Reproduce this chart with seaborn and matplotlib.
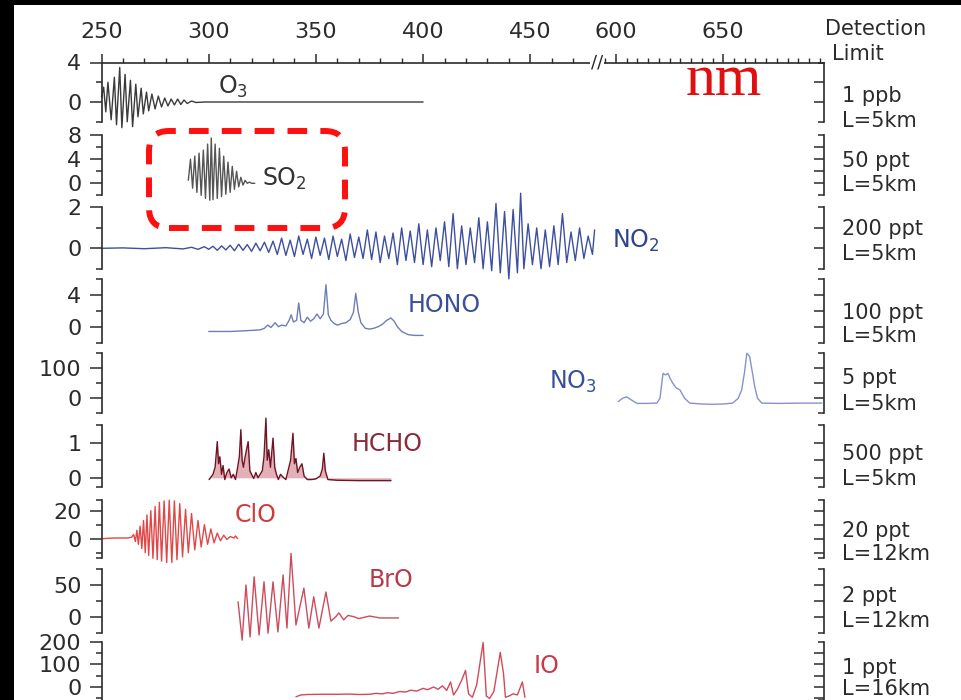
import numpy as np
import pandas as pd
import matplotlib
matplotlib.use("Agg")
import matplotlib.pyplot as plt
import matplotlib.transforms as mtransforms
from matplotlib.patches import FancyBboxPatch, Rectangle
import seaborn as sns

# ---- spectra (wavelength in nm, differential cross section) ----
o3_nm = [250, 251, 252, 253, 254.5, 256, 257, 258.5, 259.5, 261, 262, 263.5, 264.5, 266, 267,
         268.5, 269.5, 271, 272, 273.5, 275, 276.5, 278, 279.5, 281, 282.5, 284, 285.5, 287,
         288.5, 290, 292, 294, 298, 400]
o3_val = [0.5, 1.5, -1.0, 2.0, -1.8, 2.5, -2.3, 3.5, -2.6, 2.8, -2.0, 2.2, -2.5, 1.8, -1.5,
          1.4, -1.2, 1.0, -0.9, 0.8, -0.7, 0.6, -0.5, 0.4, -0.4, 0.3, -0.3, 0.3, -0.25,
          0.2, -0.15, 0.1, -0.05, 0.0, 0.0]

so2_nm = [290.5, 291.5, 292.5, 293.5, 294.5, 295.5, 296.5, 297.5, 298.5, 299.5, 300.5, 301.2,
          302, 303, 304, 305, 306, 307, 308, 309, 310, 311, 312, 313, 314, 315, 316, 317, 318,
          319, 320, 321.5]
so2_val = [0.5, 4.0, -0.8, 4.5, -1.5, 5.0, -2.0, 5.5, -2.5, 6.5, -2.8, 7.5,
           -2.7, 6.5, -2.5, 5.8, -2.2, 4.5, -1.8, 3.5, -1.5, 2.8, -1.0, 2.0, -0.6, 1.0, -0.3,
           0.5, 0.0, 0.2, 0.0, 0.0]

no2_nm = [250, 260, 270, 280, 288, 292, 295, 298, 300,
          302, 304, 306, 308, 310, 312, 314, 316, 318, 320,
          322, 324, 326, 328, 330, 332, 334, 336, 338, 340,
          342, 344, 346, 348, 350, 352, 354, 356, 358, 360,
          362, 364, 366, 368, 370, 372, 374, 376, 378, 380,
          382, 384, 386, 388, 390, 392, 394, 396, 398, 400,
          402, 404, 406, 408, 410, 412, 414, 416, 418, 420,
          422, 424, 426, 428, 430, 432, 434, 436, 438, 440,
          442, 444,
          445.5, 447, 449, 451, 453, 455, 457, 459, 461, 463,
          465, 467, 469, 471, 473, 475, 477, 479, 480]
no2_val = [0, 0.02, -0.02, 0.03, -0.03, 0.05, -0.05, 0.08, -0.05,
           0.1, -0.1, 0.12, -0.08, 0.15, -0.12, 0.2, -0.1, 0.18, -0.15,
           0.25, -0.12, 0.3, -0.2, 0.35, -0.3, 0.5, -0.35, 0.4, -0.4,
           0.6, -0.3, 0.45, -0.5, 0.55, -0.35, 0.5, -0.55, 0.6, -0.4,
           0.45, -0.6, 0.7, -0.45, 0.55, -0.5, 0.9, -0.55, 0.8, -0.7,
           0.6, -0.5, 0.75, -0.8, 1.0, -0.6, 0.85, -0.7, 1.2, -0.8,
           0.9, -0.9, 1.0, -0.6, 1.3, -0.9, 1.7, -1.0, 1.1, -0.8,
           1.0, -0.7, 1.5, -1.0, 1.3, -1.1, 2.2, -1.2, 1.8, -1.5,
           1.9, -1.2,
           2.7, -1.0, 1.2, -0.8, 1.0, -1.0, 0.9, -0.9, 1.1, -0.8,
           1.7, -0.7, 0.8, -0.6, 1.0, -0.5, 0.6, -0.3, 0.9]

hono_nm = [300, 310, 318, 324, 326, 327.5, 329, 331, 332.5, 334, 336, 337.5, 338.5, 339.5, 341,
           342, 343, 344.5, 346, 347.5, 349, 350.5, 352, 353.5, 354.7, 355.8, 357, 358.5, 360,
           362, 364, 366, 367.5, 368.6, 369.8, 371, 373, 375, 377, 379, 381, 383, 385, 386.5,
           388, 390, 393, 396, 400]
hono_val = [-0.6, -0.6, -0.5, -0.4, -0.2, 0.2, -0.1, 0.5, 0.0, 0.2, 0.1, 0.8, 1.5, 0.6, 0.8,
            3.0, 0.8, 0.5, 1.2, 0.7, 1.0, 1.6, 1.0, 1.6, 5.3, 1.5, 0.8, 0.4, 0.2,
            0.4, 0.5, 0.9, 1.8, 4.2, 1.8, 0.5, -0.2, -0.3, -0.2, 0.0, 0.3, 0.8, 1.1, 0.7,
            0.0, -0.6, -1.0, -1.1, -1.1]

no3_nm = [601, 603, 605, 607, 609.8, 614, 619, 620.5, 621.9, 623, 624.2, 625.3, 626.5, 628,
          629.8, 632, 634.4, 640, 645, 650, 654.4, 657, 658.6, 660, 661, 662.3, 663.5, 664.7,
          666, 668, 676, 686, 696]
no3_val = [-11, 0, 5, -5, -17, -17, -16, 0, 83, 78, 83, 65, 50, 35,
           28, 0, -16, -19, -20, -19, -16, 0, 28, 90, 150, 140, 90, 39,
           0, -16, -17, -16, -16]

hcho_nm = [300.2, 302, 303, 304, 304.6, 305.2, 306, 306.7, 307.5, 308.5, 309.5, 310.5, 311.5,
           312.5, 313.5, 314.3, 315, 315.6, 316.2, 317, 318.4, 319.2, 320, 321, 322, 323, 324,
           325, 325.8, 326.7, 327.3, 328, 328.8, 330, 330.8, 331.6, 332.5, 333.5, 335, 336,
           337, 338.2, 339.3, 340, 340.7, 341.5, 342.5, 343.5, 344.5, 346, 348, 350, 352, 353,
           353.7, 354.4, 355.6, 360, 370, 385]
hcho_val = [-0.05, 0.1, 0.3, 1.03, 0.4, 0.6, 0.1, 0.35, -0.05, 0.15, 0.25, 0.0, 0.1,
            -0.05, 0.3, 0.6, 1.37, 0.5, 0.3, 0.6, 1.03, 0.2, 0.1, -0.02, 0.15, 0.0, 0.1,
            0.2, 0.6, 1.7, 0.5, 0.8, 0.3, 1.13, 0.3, 0.1, -0.05, 0.1, 0.0, -0.05,
            0.2, 0.5, 1.27, 0.4, 0.55, 0.15, 0.3, 0.4, 0.05, -0.05, -0.05, -0.03, 0.05, 0.25,
            0.7, 0.2, -0.05, -0.07, -0.08, -0.08]

clo_nm = [250, 256, 262, 264, 265, 265.8, 266.5, 267.2, 268, 268.8, 269.6, 270.4, 271.2, 272,
          273, 274, 275, 276, 277, 278, 279.2, 280.4, 281.6, 282.8, 284, 285.2, 286.5, 287.8,
          289.2, 290.5, 292, 293.5, 295, 296.5, 298, 299.5, 301, 302.5, 304, 305.5, 307,
          308.5, 310, 311.9, 312.5, 313.5]
clo_val = [0, 0.5, 0.5, 1, 3, -2, 6, -4, 9, -7, 13, -10, 17, -12,
           20, -14, 23, -15, 26, -16, 27, -17, 27.5, -17, 27, -15, 25, -13,
           21, -10, 18, -8, 13, -6, 10, -4, 7, -3, 4, -1.5, 2.5,
           -0.5, 1.5, 0.5, 2, 0]

bro_nm = [313.7, 315.6, 317.4, 319.3, 321.2, 323.5, 325.8, 327.7, 330, 332.3, 334.7, 336.5,
          338.4, 340.7, 344.4, 346.7, 349, 351.4, 354.7, 357, 359.3, 360.7, 363, 365, 367.7,
          370, 375, 380, 388.6]
bro_val = [23.6, -37, 50, -32, 63, -29, 55, -26, 55, -24, 66, -18,
           100, -13, 45, -18, 31.5, -18, 39, -7, 0, 6, -5, 2, 0,
           -3, 1, -2, -2]

io_nm = [340.7, 343, 346, 352, 360, 366, 370, 375, 378, 381, 383.5, 386, 389, 392, 394.2, 397,
         400, 402, 404.9, 407, 409, 411, 412.8, 414.2, 416, 418, 419.8, 421.2, 423, 425, 428,
         429.5, 431, 433, 436, 437.5, 438.4, 440, 442, 444, 446.3, 447.5]
io_val = [-43, -35, -33, -32, -32, -31, -33, -32, -28, -30, -25, -28, -20, -22, -14, -18,
          -6, -12, 0, -10, 5, -15, 22, -35, -10, 30, 73, -30, -45, 10, 196,
          -40, -50, -20, 152, 60, -45, -40, -30, -35, 22, -45]

top_major = [250, 300, 350, 400, 450, 600, 650]
top_minor = [260, 270, 280, 290, 310, 320, 330, 340, 360, 370, 380, 390, 410, 420, 430, 440,
             460, 470, 480, 595, 605, 610, 615, 620, 625, 630, 635, 640, 645, 655, 660, 665,
             670, 675, 680, 685, 690, 695]

limit_text = ["1 ppb", "50 ppt", "200 ppt", "100 ppt", "5 ppt", "500 ppt", "20 ppt", "2 ppt", "1 ppt"]
path_text = ["L=5km", "L=5km", "L=5km", "L=5km", "L=5km", "L=5km", "L=12km", "L=12km", "L=16km"]

# ---- broken wavelength axis: 481 nm on the left joins 591 nm on the right ----
BRK_LO, BRK_HI = 481.0, 591.0


def fwd(x):
    x = np.asarray(x, dtype=float)
    return np.where(x <= BRK_LO, x, np.where(x >= BRK_HI, x - (BRK_HI - BRK_LO), BRK_LO))


def inv(x):
    x = np.asarray(x, dtype=float)
    return np.where(x <= BRK_LO, x, x + (BRK_HI - BRK_LO))


sns.set_theme(style="ticks")
plt.rcParams["font.family"] = ["DejaVu Sans"]
plt.rcParams["mathtext.fontset"] = "dejavusans"

W, H = 961, 700
X_LEFT, X_RIGHT = 101.5, 824.0
INK = "#2b2b2b"

fig = plt.figure(figsize=(W / 100, H / 100), dpi=100, facecolor="black")
fig.add_artist(Rectangle((14 / W, 0), 1 - 14 / W, 1 - 5 / H, transform=fig.transFigure,
                         facecolor="white", edgecolor="none", zorder=-10))

panels = [
    dict(nm=o3_nm, val=o3_val, color="#3a3a3a", cal=(4, 62.5, 0, 102), lim=(-2, 4),
         ticks=[4, 2, 0, -2], labels=[4, 0], top=True),
    dict(nm=so2_nm, val=so2_val, color="#555555", cal=(8, 135, 0, 183.3), lim=(-2, 8),
         ticks=[8, 6, 4, 2, 0, -2], labels=[8, 4, 0]),
    dict(nm=no2_nm, val=no2_val, color="#3d4f9f", cal=(2, 207.5, 0, 248.3), lim=(-1, 2),
         ticks=[2, 1, 0, -1], labels=[2, 0]),
    dict(nm=hono_nm, val=hono_val, color="#6f7db5", cal=(4, 295, 0, 326.7), lim=(-2, 6),
         ticks=[6, 4, 2, 0, -2], labels=[4, 0]),
    dict(nm=no3_nm, val=no3_val, color="#8593cc", cal=(100, 368.3, 0, 398.3), lim=(-50, 150),
         ticks=[150, 100, 50, 0, -50], labels=[100, 0]),
    dict(nm=hcho_nm, val=hcho_val, color="#6e1424", cal=(1, 442.7, 0, 477.8), lim=(-0.27, 1.5),
         ticks=[1.5, 1, 0.5, 0, -0.27], labels=[1, 0], fill="#c0505f"),
    dict(nm=clo_nm, val=clo_val, color="#e04848", cal=(20, 510.7, 0, 538.7), lim=(-14, 27.5),
         ticks=[27.5, 20, 10, 0, -10, -14], labels=[20, 0]),
    dict(nm=bro_nm, val=bro_val, color="#cc4c5c", cal=(50, 585, 0, 616.7), lim=(-25, 75),
         ticks=[75, 50, 25, 0, -25], labels=[50, 0]),
    dict(nm=io_nm, val=io_val, color="#d44858", cal=(200, 641.5, 0, 687), lim=(-55, 200),
         ticks=[200, 150, 100, 50, 0, -50], labels=[200, 100, 0]),
]

for p in panels:
    v1, p1, v2, p2 = p["cal"]
    lo, hi = p["lim"]
    k = (p2 - p1) / (v1 - v2)
    y_top = p1 + (v1 - hi) * k
    y_bot = p1 + (v1 - lo) * k
    ax = fig.add_axes([X_LEFT / W, 1 - y_bot / H, (X_RIGHT - X_LEFT) / W, (y_bot - y_top) / H])
    ax.patch.set_visible(False)

    df = pd.DataFrame({"nm": p["nm"], "val": p["val"]})
    if "fill" in p:
        ax.fill_between(df["nm"], df["val"], 0, color=p["fill"], alpha=0.45, lw=0)
    sns.lineplot(data=df, x="nm", y="val", ax=ax, color=p["color"], lw=1.0,
                 estimator=None, sort=False, legend=False)
    for art in ax.lines + ax.collections:
        art.set_clip_on(False)

    ax.set_xscale("function", functions=(fwd, inv))
    ax.set_xlim(250, 697)
    ax.set_ylim(lo, hi)
    ax.set(xlabel="", ylabel="")

    # left axis: labelled ticks long, others short
    ax.set_yticks(p["labels"], labels=[f"{v:g}" for v in p["labels"]])
    ax.set_yticks([t for t in p["ticks"] if t not in p["labels"]], minor=True)
    ax.tick_params(axis="y", which="major", direction="out", length=8.5, width=1.1,
                   labelsize=16, pad=6, colors=INK)
    ax.tick_params(axis="y", which="minor", direction="out", length=4.3, width=1.1, colors=INK)

    for s in ["right", "bottom"]:
        ax.spines[s].set_visible(False)
    ax.spines["left"].set_color(INK)
    ax.spines["left"].set_linewidth(1.2)

    if p.get("top"):
        ax.spines["top"].set_color(INK)
        ax.spines["top"].set_linewidth(1.2)
        ax.xaxis.set_ticks_position("top")
        ax.set_xticks(top_major, labels=[str(t) for t in top_major])
        ax.set_xticks(top_minor, minor=True)
        ax.tick_params(axis="x", which="major", direction="out", length=6.5, width=1.1,
                       labelsize=16, pad=8, colors=INK)
        ax.tick_params(axis="x", which="minor", direction="out", length=3.4, width=1.0,
                       colors=INK)
        brk = mtransforms.blended_transform_factory(ax.transData, ax.transAxes)
        ax.text(BRK_LO, 1.0, "//", transform=brk, ha="center", va="center", fontsize=13,
                color=INK, bbox=dict(fc="white", ec="none", pad=0.5), zorder=5, clip_on=False)
    else:
        ax.spines["top"].set_visible(False)
        ax.tick_params(axis="x", which="both", top=False, bottom=False,
                       labeltop=False, labelbottom=False)

    # right axis: ticks point inwards
    tw = ax.twinx()
    tw.set_ylim(lo, hi)
    ends = [lo, hi]
    tw.set_yticks([t for t in p["ticks"] if t not in ends], labels=[])
    tw.set_yticks(ends, minor=True)
    tw.tick_params(axis="y", which="major", direction="in", length=7, width=1.1, colors=INK)
    tw.tick_params(axis="y", which="minor", direction="in", length=4.3, width=1.1, colors=INK)
    for s in ["top", "bottom", "left"]:
        tw.spines[s].set_visible(False)
    tw.spines["right"].set_color(INK)
    tw.spines["right"].set_linewidth(1.2)
    tw.grid(False)


def ftext(xp, yp, s, **kw):
    fig.text(xp / W, 1 - yp / H, s, **kw)


# species names
species = [("O$_3$", 218, 86, "#333333"), ("SO$_2$", 262, 178, "#333333"),
           ("NO$_2$", 612, 240, "#2f4290"), ("HONO", 408, 304, "#3a4f9a"),
           ("NO$_3$", 549, 381, "#3a4f9a"), ("HCHO", 352, 443, "#8a2a3a"),
           ("ClO", 235, 514, "#d03a3a"), ("BrO", 369, 579, "#b8394a"),
           ("IO", 534, 665, "#c83a4a")]
for s, xp, yp, c in species:
    ftext(xp, yp + 1, s, fontsize=17, color=c, ha="left", va="center")

# detection limit column
ftext(825, 29, "Detection", fontsize=15, color=INK, ha="left", va="center")
ftext(832, 54, "Limit", fontsize=15, color=INK, ha="left", va="center")
limit_y = [95, 160, 228, 312, 377, 453, 530, 595, 667]
path_y = [120, 184, 253, 335, 403, 478, 553, 620, 688]
for t1, t2, y1, y2 in zip(limit_text, path_text, limit_y, path_y):
    ftext(842, y1 + 1, t1, fontsize=15, color=INK, ha="left", va="center")
    ftext(842, y2 + 1, t2, fontsize=15, color=INK, ha="left", va="center")

# red annotations
ftext(686, 95, "nm", fontsize=43, color="#e01010", family="Liberation Serif",
      ha="left", va="baseline")
box = FancyBboxPatch((149 / 100, (H - 228) / 100), (345 - 149) / 100, (228 - 131) / 100,
                     boxstyle="round,pad=0,rounding_size=0.2", transform=fig.dpi_scale_trans,
                     fill=False, edgecolor="#ff1010", linewidth=4.3,
                     linestyle=(0, (3.3, 2.2)), zorder=20)
fig.add_artist(box)

fig.savefig("out.png", dpi=100, facecolor=fig.get_facecolor())
